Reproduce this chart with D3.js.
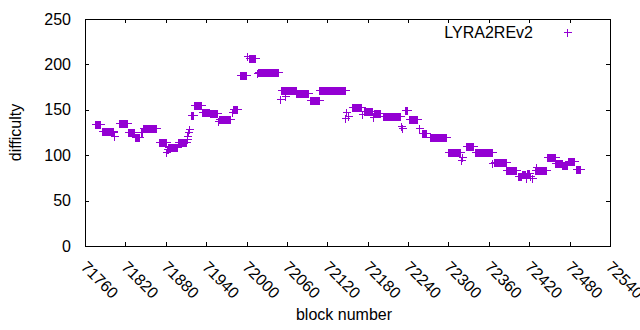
<!DOCTYPE html>
<html>
<head>
<meta charset="utf-8">
<script src="https://cdn.jsdelivr.net/npm/d3@7"></script>
<style>
  html, body { margin: 0; padding: 0; background: #fff; }
  text { font-family: "Liberation Sans", Arial, sans-serif; font-size: 16px; fill: #000; }
</style>
</head>
<body>
<script>
// ---- data: runs of blocks sharing the same difficulty (from, to, value) ----
const runFrom  = [71775,71785,71802,71803,71810,71824,71834,71843,71846,71870,71881,71882,71884,71898,71911,71912,71913,71914,71917,71922,71934,71945,71957,71959,71978,71980,71990,72001,72003,72015,72017,72049,72051,72057,72074,72094,72108,72147,72148,72150,72156,72171,72175,72188,72190,72203,72229,72231,72236,72242,72256,72261,72272,72300,72319,72320,72326,72339,72365,72367,72386,72403,72409,72415,72417,72421,72424,72428,72430,72447,72459,72469,72478,72490];
const runTo    = [71783,71801,71802,71803,71823,71833,71840,71844,71866,71880,71881,71883,71896,71910,71911,71912,71913,71914,71920,71933,71944,71956,71957,71975,71979,71986,71999,72001,72013,72015,72047,72049,72073,72057,72092,72107,72146,72147,72148,72150,72170,72171,72186,72188,72198,72228,72229,72231,72239,72253,72256,72266,72297,72317,72319,72320,72337,72364,72365,72385,72401,72408,72414,72415,72420,72421,72424,72445,72430,72458,72468,72476,72487,72496];
const runValue = [134,127,126,121,136,126,120,126,130,115,104,107,109,114,118,121,126,129,144,155,148,147,138,140,148,151,188,209,207,191,192,162,172,165,169,161,172,141,148,143,153,145,149,142,147,143,132,130,150,140,130,125,120,104,95,98,110,104,91,92,84,77,79,75,80,77,75,84,87,98,91,89,94,85];

const xTickValues = [71760,71820,71880,71940,72000,72060,72120,72180,72240,72300,72360,72420,72480,72540];
const yTickValues = [0,50,100,150,200,250];
const seriesName = "LYRA2REv2";
const xLabel = "block number";
const yLabel = "difficulty";

// one point per block inside each run
const points = [];
runFrom.forEach((f, i) => {
  for (let b = f; b <= runTo[i]; b++) points.push({block: b, value: runValue[i]});
});

const W = 640, H = 330;
const L = 85, R = 610, T = 19, B = 246;
const color = "#9400d3";

const svg = d3.select("body").append("svg").attr("width", W).attr("height", H);

const x = d3.scaleLinear().domain([71760, 72540]).range([L, R]);
const y = d3.scaleLinear().domain([0, 250]).range([B, T]);

const tick = 4;
const g = svg.append("g").attr("stroke", "#000").attr("stroke-width", 1).attr("shape-rendering", "crispEdges");

// ticks (inward, mirrored)
xTickValues.forEach(v => {
  const px = Math.round(x(v)) + 0.5;
  g.append("line").attr("x1", px).attr("x2", px).attr("y1", B).attr("y2", B - tick);
  g.append("line").attr("x1", px).attr("x2", px).attr("y1", T).attr("y2", T + tick);
});
yTickValues.forEach(v => {
  const py = Math.round(y(v)) + 0.5;
  g.append("line").attr("x1", L).attr("x2", L + tick).attr("y1", py).attr("y2", py);
  g.append("line").attr("x1", R).attr("x2", R - tick).attr("y1", py).attr("y2", py);
});

// border
g.append("rect").attr("x", L + 0.5).attr("y", T + 0.5).attr("width", R - L).attr("height", B - T).attr("fill", "none");

// y tick labels
svg.append("g").selectAll("text").data(yTickValues).join("text")
  .attr("x", L - 14).attr("y", d => y(d) + 5.5)
  .attr("text-anchor", "end").text(d => d);

// x tick labels rotated
svg.append("g").selectAll("text").data(xTickValues).join("text")
  .attr("transform", d => `translate(${x(d) - 1},${B + 18}) rotate(45)`)
  .attr("dy", "0.35em")
  .attr("text-anchor", "start").text(d => d);

// axis labels
svg.append("text").attr("x", 344).attr("y", 320).attr("text-anchor", "middle").text(xLabel);
svg.append("text").attr("transform", `translate(21,${(T + B) / 2}) rotate(-90)`)
  .attr("text-anchor", "middle").text(yLabel);

// points
const plus = (cx, cy, s) => `M${cx - s},${cy}H${cx + s}M${cx},${cy - s}V${cy + s}`;
svg.append("path")
  .attr("d", points.map(p => plus(Math.round(x(p.block)) + 0.5, Math.round(y(p.value)) + 0.5, 4)).join(""))
  .attr("fill", "none").attr("stroke", color).attr("stroke-width", 1)
  .attr("shape-rendering", "crispEdges");

// legend
svg.append("text").attr("x", 533).attr("y", 37.5).attr("text-anchor", "end").text(seriesName);
svg.append("path").attr("d", plus(567.5, 32.5, 4)).attr("fill", "none").attr("stroke", color)
  .attr("stroke-width", 1).attr("shape-rendering", "crispEdges");
</script>
</body>
</html>
